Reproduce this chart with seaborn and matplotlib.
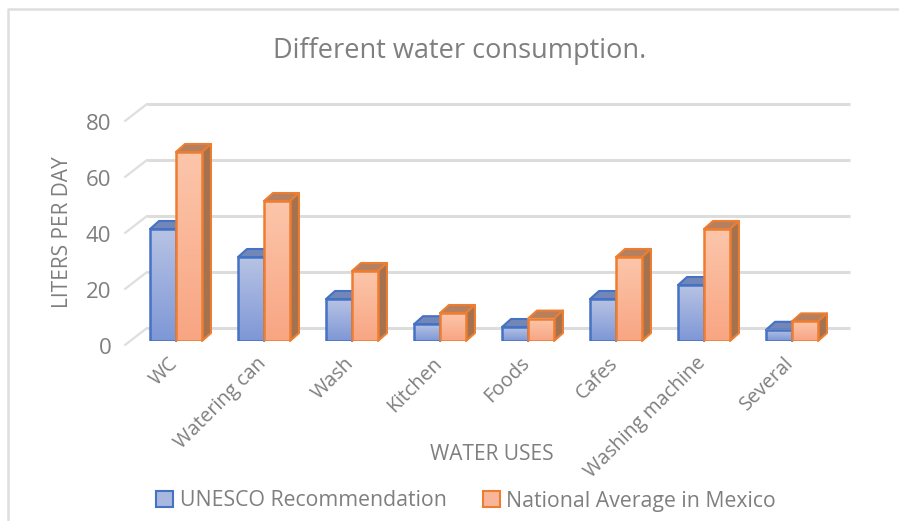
#!/usr/bin/env python3
# -*- coding: utf-8 -*-
import numpy as np
import pandas as pd
import matplotlib.pyplot as plt
import seaborn as sns
from matplotlib.lines import Line2D
from matplotlib.patches import Patch, Polygon
from matplotlib.transforms import ScaledTranslation

categories = ['WC', 'Watering can', 'Wash', 'Kitchen', 'Foods', 'Cafes',
              'Washing machine', 'Several']
unesco = [40, 30, 15, 6, 5, 15, 20, 4]
mexico = [67.5, 50, 25, 10, 8, 30, 40, 7]
series_names = ['UNESCO Recommendation', 'National Average in Mexico']
y_ticks = [0, 20, 40, 60, 80]

W, H = 899, 521
GRAY = '#7f7f7f'

sns.set_style('white')
plt.rcParams['font.family'] = ['Open Sans', 'DejaVu Sans']

df = pd.DataFrame({
    'use': categories * 2,
    'value': unesco + mexico,
    'series': [series_names[0]] * 8 + [series_names[1]] * 8,
})

fig = plt.figure(figsize=(W / 100, H / 100), dpi=100)
# axes: 88 px per category, 2.8 px per liter, floor at y=341
ax = fig.add_axes([132 / W, (H - 341) / H, 704 / W, 240 / H])

sns.barplot(data=df, x='use', y='value', hue='series', order=categories,
            hue_order=series_names, width=0.59, gap=0, saturation=1,
            legend=False, ax=ax)

# depth of the 3D look, in data units
depth_x = 9 / 88
depth_y = 8 / 2.8

styles = [
    {'edge': '#4472c4', 'top': '#7286b8', 'side': '#6d7ea8',
     'grad': ('#b7c3e4', '#7e97d6')},
    {'edge': '#ed7d31', 'top': '#b5805f', 'side': '#a5724f',
     'grad': ('#fcc6ab', '#f8a582')},
]

for s, (container, st) in enumerate(zip(ax.containers, styles)):
    base_z = 3 + s * 3
    a = np.array(sns.color_palette([st['grad'][0], st['grad'][1]]))
    grad = np.linspace(a[0], a[1], 64).reshape(64, 1, 3)
    for bar in container:
        x0, w, h = bar.get_x(), bar.get_width(), bar.get_height()
        x1 = x0 + w
        ax.imshow(grad, extent=(x0, x1, 0, h), aspect='auto', origin='upper',
                  zorder=base_z + 1)
        bar.set_facecolor('none')
        bar.set_edgecolor(st['edge'])
        bar.set_linewidth(1.8)
        bar.set_zorder(base_z + 2)
        top = Polygon([(x0, h), (x0 + depth_x, h + depth_y),
                       (x1 + depth_x, h + depth_y), (x1, h)],
                      facecolor=st['top'], edgecolor=st['edge'], lw=1.5,
                      joinstyle='round', zorder=base_z, clip_on=False)
        side = Polygon([(x1, 0), (x1 + depth_x, depth_y),
                        (x1 + depth_x, h + depth_y), (x1, h)],
                       facecolor=st['side'], edgecolor=st['edge'], lw=1.5,
                       joinstyle='round', zorder=base_z, clip_on=False)
        ax.add_patch(top)
        ax.add_patch(side)
ax.set_xlim(-0.5, 7.5)
ax.set_ylim(0, 240 / 2.8)

# back wall grid lines and the slanted part on the left
back_x0, back_x1 = (147 - 176) / 88, (850 - 176) / 88
front_x = (125 - 176) / 88
for v in y_ticks:
    back_y = v + 13 / 2.8
    front_y = v - 4 / 2.8
    ax.plot([back_x0, back_x1], [back_y, back_y], color='#dcdcdc', lw=2.2,
            zorder=1, clip_on=False, solid_capstyle='butt')
    ax.plot([front_x, back_x0], [front_y, back_y], color='#dedede', lw=1.6,
            zorder=1, clip_on=False)

for sp in ax.spines.values():
    sp.set_visible(False)
ax.grid(False)

ax.set_yticks(y_ticks)
ax.set_yticklabels([str(v) for v in y_ticks], fontsize=16, color=GRAY)
ax.tick_params(axis='both', length=0)
ax.tick_params(axis='y', pad=15)
offset = ScaledTranslation(0, -5 / 100, fig.dpi_scale_trans)
for lab in ax.get_yticklabels():
    lab.set_transform(lab.get_transform() + offset)

ax.set_xticks(range(len(categories)))
ax.set_xticklabels(categories, rotation=45, ha='right', rotation_mode='anchor',
                   fontsize=14.2, color=GRAY)
ax.tick_params(axis='x', pad=9)
offset_x = ScaledTranslation(-8 / 100, 0, fig.dpi_scale_trans)
for lab in ax.get_xticklabels():
    lab.set_transform(lab.get_transform() + offset_x)

ax.set_xlabel('')
ax.set_ylabel('')
fig.text(492 / W, 1 - 455 / H, 'WATER USES', ha='center', va='center',
         fontsize=15, color=GRAY)
fig.text(62 / W, 1 - 232 / H, 'LITERS PER DAY', ha='center', va='center',
         rotation=90, fontsize=15, color=GRAY)
fig.text(460 / W, 1 - 51 / H, 'Different water consumption.', ha='center',
         va='center', fontsize=19.5, color=GRAY)

handles = [Patch(facecolor='#a9b8e0', edgecolor=styles[0]['edge'], lw=1.5),
           Patch(facecolor='#f9b599', edgecolor=styles[1]['edge'], lw=1.5)]
fig.legend(handles, series_names, loc='center', ncol=2,
           bbox_to_anchor=(466 / W, 1 - 501 / H), frameon=False, fontsize=15.3,
           labelcolor=GRAY, handlelength=0.8, handleheight=0.8,
           handletextpad=0.3, columnspacing=1.7)

# outer frame of the picture (top and left only)
fig.add_artist(Line2D([8 / W, 8 / W, 1], [0, 1 - 9 / H, 1 - 9 / H],
                      color='#dedede', lw=1.8))

plt.savefig('out.png', dpi=100)
plt.close()
